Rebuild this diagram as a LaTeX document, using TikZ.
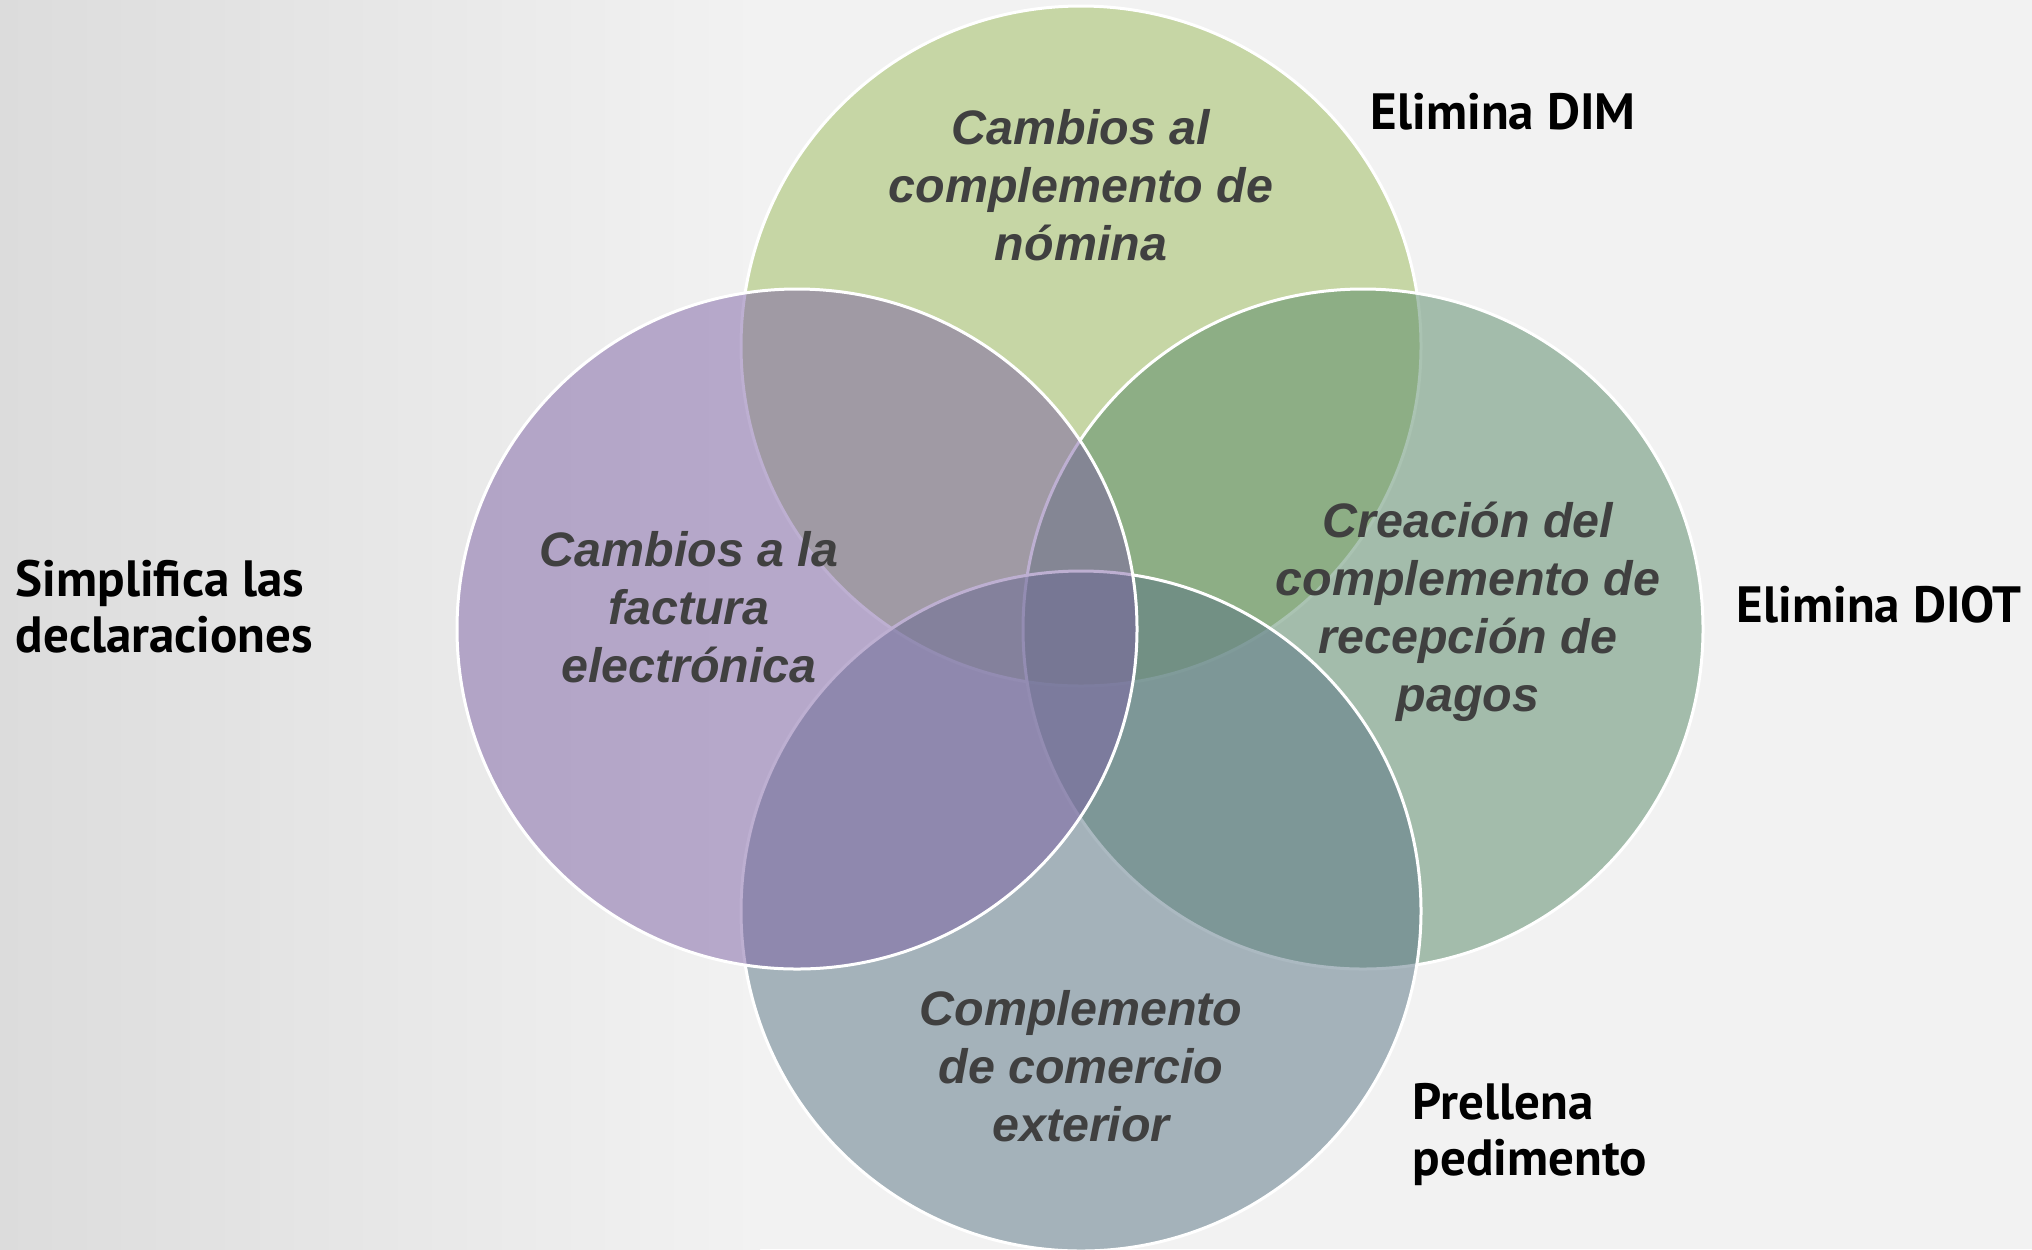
\documentclass[tikz,border=0pt]{standalone}
\usepackage{fontspec}
\setmainfont{Liberation Sans}
\newfontfamily\sidefont{PT Sans}
\usepackage{tikz}

\definecolor{bgcol}{RGB}{242,242,242}
\definecolor{bgdark}{RGB}{220,220,220}
\definecolor{nomcol}{RGB}{155,187,89}
\definecolor{pagcol}{RGB}{86,136,102}
\definecolor{comcol}{RGB}{88,116,132}
\definecolor{faccol}{RGB}{124,96,164}
\definecolor{txtcol}{RGB}{64,64,64}

\tikzset{
  venn/.style={draw=white, line width=1.5pt, fill opacity=0.5, draw opacity=1},
  circtext/.style={align=center, inner sep=0.75pt, text=txtcol,
    font=\fontsize{24.2}{29}\selectfont\bfseries\itshape},
  sidetext/.style={align=left, inner sep=0.75pt, text=black,
    font=\sidefont\fontsize{25.5}{28}\selectfont\bfseries},
}

\begin{document}
\begin{tikzpicture}[x=0.5pt,y=0.5pt,yscale=-1,xscale=1]
\useasboundingbox (0,0) rectangle (2032,1249);

%Background
\fill [bgcol] (0,0) rectangle (2032,1249);
\shade [left color=bgdark, right color=bgcol] (0,0) rectangle (760,1249);

%Shape: Circle (nomina)
\draw [venn, fill=nomcol] (1081,346) circle (340);
%Shape: Circle (pagos)
\draw [venn, fill=pagcol] (1363,629) circle (340);
%Shape: Circle (comercio exterior)
\draw [venn, fill=comcol] (1081,911) circle (340);
%Shape: Circle (factura)
\draw [venn, fill=faccol] (797,629) circle (340);

% Text Node
\node [circtext] (nomina) at (1081,185) {Cambios al\\complemento de\\nómina};
% Text Node
\node [circtext] (factura) at (689,607) {Cambios a la\\factura\\electrónica};
% Text Node
\node [circtext] (pagos) at (1468,612) {Creación del\\complemento de\\recepción de\\pagos};
% Text Node
\node [circtext] (comercio) at (1081,1066) {Complemento\\de comercio\\exterior};

% Text Node
\node [sidetext, anchor=west] (dim) at (1369,112) {Elimina DIM};
% Text Node
\node [sidetext, anchor=west] (diot) at (1735,605) {Elimina DIOT};
% Text Node
\node [sidetext, anchor=west] (decl) at (14,607) {Simplifica las\\declaraciones};
% Text Node
\node [sidetext, anchor=west] (pedim) at (1411,1134) {Prellena\\pedimento};

\end{tikzpicture}
\end{document}
